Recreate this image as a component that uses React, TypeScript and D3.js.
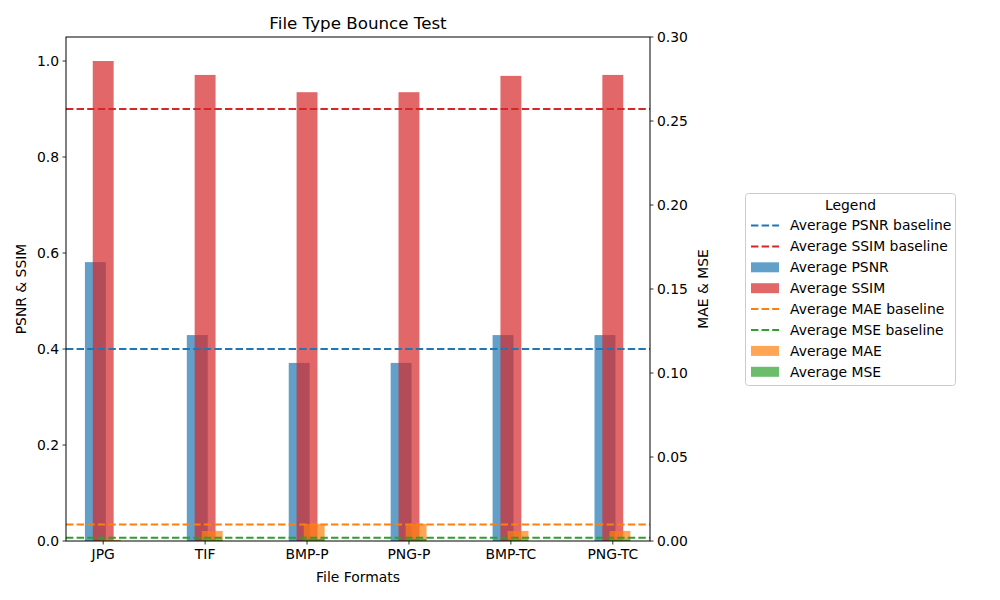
import React from "react";
import * as d3 from "d3";

const categories = ["JPG", "TIF", "BMP-P", "PNG-P", "BMP-TC", "PNG-TC"];
const psnr = [0.581, 0.429, 0.371, 0.371, 0.429, 0.429];
const ssim = [1.0, 0.971, 0.935, 0.935, 0.969, 0.971];
const mae = [0.0007, 0.006, 0.0102, 0.0102, 0.006, 0.006];
const mse = [0.0002, 0.0008, 0.0012, 0.0012, 0.0008, 0.0008];
const psnrBaseline = 0.4;
const ssimBaseline = 0.9;
const maeBaseline = 0.0098;
const mseBaseline = 0.002;
const leftTicks = [0, 0.2, 0.4, 0.6, 0.8, 1.0];
const rightTicks = [0, 0.05, 0.1, 0.15, 0.2, 0.25, 0.3];

const W = 1000, H = 600;
const L = 66, R = 650, T = 37, B = 541;
const FONT = "DejaVu Sans, sans-serif";

const C = {
  blue: "#1f77b4",
  red: "#d62728",
  orange: "#ff7f0e",
  green: "#2ca02c",
};

export default function App() {
  const x = d3.scaleLinear().domain([-0.365, 5.365]).range([L, R]);
  const yL = d3.scaleLinear().domain([0, 1.05]).range([B, T]);
  const yR = d3.scaleLinear().domain([0, 0.3]).range([B, T]);
  const bw = x(0.205) - x(0);
  const idx = categories.map((_, i) => i);
  const dash = "7.4,3.2";
  const lw = 2;

  const bars = (vals: number[], off: number, y: any, color: string, key: string) =>
    vals.map((v, i) => (
      <rect
        key={key + i}
        x={x(i + off) - bw / 2}
        y={y(v)}
        width={bw}
        height={B - y(v)}
        fill={color}
        fillOpacity={0.7}
      />
    ));

  const hline = (v: number, y: any, color: string) => (
    <line x1={L} x2={R} y1={y(v)} y2={y(v)} stroke={color} strokeWidth={lw} strokeDasharray={dash} />
  );

  const legendItems: { label: string; color: string; type: "line" | "bar" }[] = [
    { label: "Average PSNR baseline", color: C.blue, type: "line" },
    { label: "Average SSIM baseline", color: C.red, type: "line" },
    { label: "Average PSNR", color: C.blue, type: "bar" },
    { label: "Average SSIM", color: C.red, type: "bar" },
    { label: "Average MAE baseline", color: C.orange, type: "line" },
    { label: "Average MSE baseline", color: C.green, type: "line" },
    { label: "Average MAE", color: C.orange, type: "bar" },
    { label: "Average MSE", color: C.green, type: "bar" },
  ];

  return (
    <svg
      width={W}
      height={H}
      style={{ position: "absolute", left: 0, top: 0, background: "#fff" }}
      fontFamily={FONT}
    >
      <rect x={0} y={0} width={W} height={H} fill="#fff" />
      <defs>
        <clipPath id="plot">
          <rect x={L} y={T} width={R - L} height={B - T} />
        </clipPath>
      </defs>
      <g clipPath="url(#plot)">
        {bars(psnr, -0.077, yL, C.blue, "p")}
        {bars(ssim, 0, yL, C.red, "s")}
        {hline(psnrBaseline, yL, C.blue)}
        {hline(ssimBaseline, yL, C.red)}
        {bars(mae, 0.07, yR, C.orange, "m")}
        {bars(mse, 0.07, yR, C.green, "e")}
        {hline(maeBaseline, yR, C.orange)}
        {hline(mseBaseline, yR, C.green)}
      </g>
      <rect x={L} y={T} width={R - L} height={B - T} fill="none" stroke="#000" strokeWidth={1} />
      {/* x ticks */}
      {idx.map((i) => (
        <g key={"xt" + i}>
          <line x1={x(i)} x2={x(i)} y1={B} y2={B + 3.5} stroke="#000" strokeWidth={0.8} />
          <text x={x(i)} y={B + 18} textAnchor="middle" fontSize={13.9} fill="#000">
            {categories[i]}
          </text>
        </g>
      ))}
      {/* left ticks */}
      {leftTicks.map((t) => (
        <g key={"lt" + t}>
          <line x1={L - 3.5} x2={L} y1={yL(t)} y2={yL(t)} stroke="#000" strokeWidth={0.8} />
          <text x={L - 7} y={yL(t)} dy="0.35em" textAnchor="end" fontSize={13.9} fill="#000">
            {t.toFixed(1)}
          </text>
        </g>
      ))}
      {/* right ticks */}
      {rightTicks.map((t) => (
        <g key={"rt" + t}>
          <line x1={R} x2={R + 3.5} y1={yR(t)} y2={yR(t)} stroke="#000" strokeWidth={0.8} />
          <text x={R + 7} y={yR(t)} dy="0.35em" textAnchor="start" fontSize={13.9} fill="#000">
            {t.toFixed(2)}
          </text>
        </g>
      ))}
      <text x={(L + R) / 2} y={29} textAnchor="middle" fontSize={16.7} fill="#000">
        File Type Bounce Test
      </text>
      <text x={(L + R) / 2} y={582} textAnchor="middle" fontSize={13.9} fill="#000">
        File Formats
      </text>
      <text
        transform={`translate(26,${(T + B) / 2}) rotate(-90)`}
        textAnchor="middle"
        fontSize={13.9}
        fill="#000"
      >
        PSNR &amp; SSIM
      </text>
      <text
        transform={`translate(708,${(T + B) / 2}) rotate(-90)`}
        textAnchor="middle"
        fontSize={13.9}
        fill="#000"
      >
        MAE &amp; MSE
      </text>
      {/* legend */}
      <rect x={745.5} y={193.5} width={210} height={192} rx={3} fill="#fff" fillOpacity={0.8} stroke="#ccc" strokeWidth={1} />
      <text x={850.5} y={205} dy="0.35em" textAnchor="middle" fontSize={13.9} fill="#000">
        Legend
      </text>
      {legendItems.map((it, i) => {
        const cy = 225.5 + i * 20.9;
        return (
          <g key={"lg" + i}>
            {it.type === "line" ? (
              <line x1={751} x2={779} y1={cy} y2={cy} stroke={it.color} strokeWidth={lw} strokeDasharray={dash} />
            ) : (
              <rect x={751} y={cy - 5} width={28} height={10} fill={it.color} fillOpacity={0.7} />
            )}
            <text x={790} y={cy} dy="0.35em" fontSize={13.9} fill="#000">
              {it.label}
            </text>
          </g>
        );
      })}
    </svg>
  );
}
